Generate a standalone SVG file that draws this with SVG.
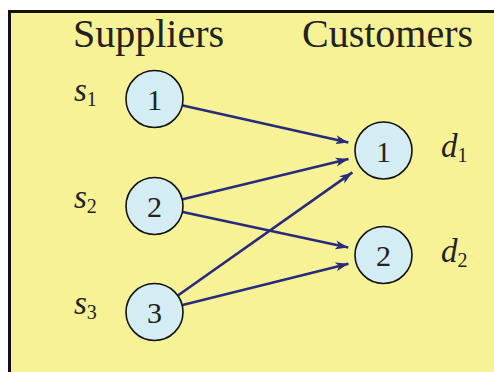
<svg xmlns="http://www.w3.org/2000/svg" width="494" height="372" viewBox="0 0 494 372">
  <defs>
    <marker id="stealth" markerUnits="userSpaceOnUse" markerWidth="14" markerHeight="10" viewBox="0 0 14 10" refX="13" refY="5" orient="auto">
      <path d="M0,0.5 L13,5 L0,9.5 L3.5,5 Z" fill="#2a2a7c"/>
    </marker>
  </defs>
  <style>
    .frame { fill: #f8f296; stroke: #111; stroke-width: 3; }
    .node circle { fill: #d4ecf4; stroke: #111; stroke-width: 1.6; }
    .edges line { stroke: #2a2a7c; stroke-width: 2.6; marker-end: url(#stealth); }
  </style>

  <!-- background panel -->
  <rect class="frame" x="9.5" y="11.5" width="500" height="380"/>

  <!-- column headings -->
  <text x="73" y="47" font-family="Liberation Serif, serif" font-size="40" fill="#222">Suppliers</text>
  <text x="302" y="47" font-family="Liberation Serif, serif" font-size="40" fill="#222">Customers</text>

  <!-- connectors -->
  <g id="edges" class="edges">
    <line x1="182.8" y1="105.4" x2="348.4" y2="142.6"/>
    <line x1="182.7" y1="199.2" x2="348.5" y2="159.0"/>
    <line x1="182.7" y1="212.1" x2="348.3" y2="247.5"/>
    <line x1="178.2" y1="295.3" x2="352.4" y2="172.4"/>
    <line x1="182.6" y1="305.0" x2="348.5" y2="263.7"/>
  </g>

  <!-- suppliers -->
  <g id="s1" class="node">
    <circle cx="154.5" cy="99" r="28.5"/>
    <text x="154.5" y="110" font-family="Liberation Serif, serif" font-size="30" fill="#222" text-anchor="middle">1</text>
    <text x="74" y="101" font-family="Liberation Serif, serif" font-size="33" font-style="italic" fill="#222">s<tspan dy="5" font-size="20" font-style="normal">1</tspan></text>
  </g>
  <g id="s2" class="node">
    <circle cx="154.5" cy="206" r="28.5"/>
    <text x="154.5" y="217" font-family="Liberation Serif, serif" font-size="30" fill="#222" text-anchor="middle">2</text>
    <text x="74" y="208" font-family="Liberation Serif, serif" font-size="33" font-style="italic" fill="#222">s<tspan dy="5" font-size="20" font-style="normal">2</tspan></text>
  </g>
  <g id="s3" class="node">
    <circle cx="154.5" cy="312" r="28.5"/>
    <text x="154.5" y="323" font-family="Liberation Serif, serif" font-size="30" fill="#222" text-anchor="middle">3</text>
    <text x="74" y="314" font-family="Liberation Serif, serif" font-size="33" font-style="italic" fill="#222">s<tspan dy="5" font-size="20" font-style="normal">3</tspan></text>
  </g>

  <!-- customers -->
  <g id="d1" class="node">
    <circle cx="383.5" cy="150.5" r="28.5"/>
    <text x="383.5" y="161.5" font-family="Liberation Serif, serif" font-size="30" fill="#222" text-anchor="middle">1</text>
    <text x="441" y="157" font-family="Liberation Serif, serif" font-size="33" font-style="italic" fill="#222">d<tspan dy="5" font-size="20" font-style="normal">1</tspan></text>
  </g>
  <g id="d2" class="node">
    <circle cx="383.5" cy="255" r="28.5"/>
    <text x="383.5" y="266" font-family="Liberation Serif, serif" font-size="30" fill="#222" text-anchor="middle">2</text>
    <text x="441" y="262" font-family="Liberation Serif, serif" font-size="33" font-style="italic" fill="#222">d<tspan dy="5" font-size="20" font-style="normal">2</tspan></text>
  </g>
</svg>
